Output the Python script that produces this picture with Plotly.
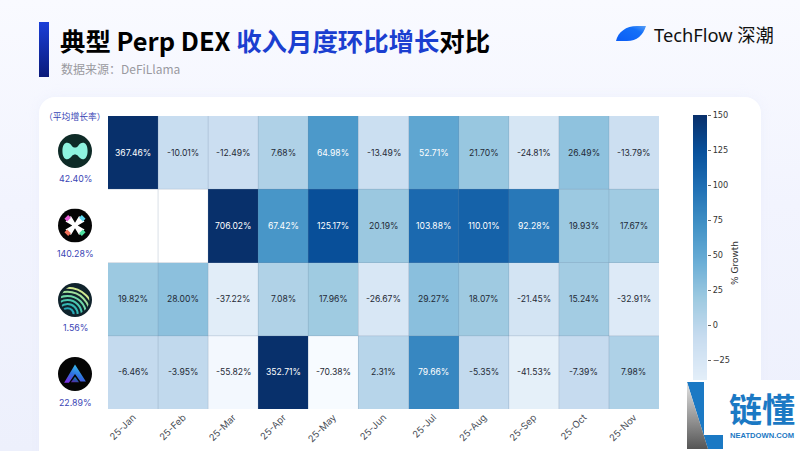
import base64
import plotly.graph_objects as go

W, H = 800, 451

# Monthly revenue growth per protocol, in percent
months = ["25-Jan", "25-Feb", "25-Mar", "25-Apr", "25-May", "25-Jun",
          "25-Jul", "25-Aug", "25-Sep", "25-Oct", "25-Nov"]
row_a = [367.46, -10.01, -12.49, 7.68, 64.98, -13.49, 52.71, 21.70, -24.81, 26.49, -13.79]
row_b = [None, None, 706.02, 67.42, 125.17, 20.19, 103.88, 110.01, 92.28, 19.93, 17.67]
row_c = [19.82, 28.00, -37.22, 7.08, 17.96, -26.67, 29.27, 18.07, -21.45, 15.24, -32.91]
row_d = [-6.46, -3.95, -55.82, 352.71, -70.38, 2.31, 79.66, -5.35, -41.53, -7.39, 7.98]
rows = [row_a, row_b, row_c, row_d]
row_names = ["A", "B", "C", "D"]
average_growth = ["42.40%", "140.28%", "1.56%", "22.89%"]

scale_min, scale_max = -60, 150
scale_ticks = [-50, -25, 0, 25, 50, 75, 100, 125, 150]
blues = ["#f7fbff", "#deebf7", "#c6dbef", "#9ecae1", "#6baed6",
         "#4292c6", "#2171b5", "#08519c", "#08306b"]
colorscale = [[i / (len(blues) - 1), c] for i, c in enumerate(blues)]
WHITE_TEXT_ABOVE = 40


def svg_uri(body, vb_w, vb_h):
    svg = (f'<svg xmlns="http://www.w3.org/2000/svg" width="{vb_w}" height="{vb_h}" '
           f'viewBox="0 0 {vb_w} {vb_h}">{body}</svg>')
    return "data:image/svg+xml;base64," + base64.b64encode(svg.encode()).decode()


def placed(body, x, y, w, h, layer="above", vb=None):
    """Layout image positioned in page pixels, measured from the top-left."""
    vb_w, vb_h = vb or (w, h)
    return dict(source=svg_uri(body, vb_w, vb_h), xref="paper", yref="paper",
                x=x / W, y=1 - y / H, sizex=w / W, sizey=h / H,
                xanchor="left", yanchor="top", sizing="stretch", layer=layer)


def label(text, x, y, size, color, family="Noto Sans CJK SC", xanchor="center", angle=0):
    return dict(text=text, x=x / W, y=1 - y / H, xref="paper", yref="paper",
                xanchor=xanchor, yanchor="middle", showarrow=False, textangle=angle,
                font=dict(size=size, color=color, family=family))


page_bg = """
<defs>
<linearGradient id="p" x1="0" y1="0" x2="0" y2="1">
<stop offset="0" stop-color="#f9faff"/><stop offset="0.45" stop-color="#f2f4fe"/>
<stop offset="1" stop-color="#edf0fc"/></linearGradient>
<linearGradient id="b" x1="0" y1="0" x2="0" y2="1">
<stop offset="0" stop-color="#1b3fd8"/><stop offset="1" stop-color="#0a1a7a"/></linearGradient>
<filter id="s" x="-5%" y="-5%" width="110%" height="110%"><feGaussianBlur stdDeviation="6"/></filter>
</defs>
<rect width="800" height="451" fill="url(#p)"/>
<rect x="39" y="97" width="722" height="380" rx="16" fill="#e6eafa" opacity="0.5" filter="url(#s)"/>
<rect x="39" y="97" width="722" height="380" rx="16" fill="#ffffff"/>
<rect x="39" y="22" width="10" height="55" fill="url(#b)"/>
"""

leaf = """
<defs><linearGradient id="l" x1="0" y1="1" x2="1" y2="0">
<stop offset="0" stop-color="#0a5cf5"/><stop offset="0.7" stop-color="#1470f8"/>
<stop offset="1" stop-color="#5aa0f5"/></linearGradient></defs>
<path d="M0 15 C2 6 10 0 21 0 L30 0 C27 9 21 15 11 15 Z" fill="url(#l)"/>
"""

logo_a = """
<circle cx="50" cy="50" r="50" fill="#0e2b27"/>
<path d="M13 50 C13 22 31 20 41 35 C46 41 54 41 59 35 C69 20 87 22 87 50
C87 78 69 80 59 65 C54 59 46 59 41 65 C31 80 13 78 13 50 Z" fill="#8ef4df"/>
"""

logo_b = """
<circle cx="50" cy="50" r="50" fill="#050505"/>
<path d="M50 42 L38 22 L22 38 L42 50 L22 62 L38 78 L50 58 L62 78 L78 62 L58 50 L78 38 L62 22 Z" fill="#ffffff"/>
<path d="M19 30 L30 19 L38 27 L27 38 Z" fill="#e85fd8"/>
<path d="M81 30 L70 19 L62 27 L73 38 Z" fill="#5fd8f0"/>
<path d="M19 70 L30 81 L38 73 L27 62 Z" fill="#f0705a"/>
<path d="M81 70 L70 81 L62 73 L73 62 Z" fill="#4fe0a0"/>
"""

logo_c = """
<defs><clipPath id="c"><circle cx="50" cy="50" r="42"/></clipPath></defs>
<circle cx="50" cy="50" r="50" fill="#10232c"/>
<g fill="none" stroke-width="6" clip-path="url(#c)">
<circle cx="28" cy="92" r="18" stroke="#28a8b8"/>
<circle cx="28" cy="92" r="30" stroke="#35b8b4"/>
<circle cx="28" cy="92" r="42" stroke="#4cc8b0"/>
<circle cx="28" cy="92" r="54" stroke="#70d8a8"/>
<circle cx="28" cy="92" r="66" stroke="#a0e09c"/>
<circle cx="28" cy="92" r="78" stroke="#d0e890"/>
</g>
"""

logo_d = """
<defs><linearGradient id="t" x1="0.7" y1="0" x2="0.2" y2="1">
<stop offset="0" stop-color="#38c8f0"/><stop offset="0.55" stop-color="#2f6fe0"/>
<stop offset="1" stop-color="#7a2fe0"/></linearGradient></defs>
<circle cx="50" cy="50" r="50" fill="#050505"/>
<path d="M50 22 L82 72 L66 72 L50 50 L32 76 L18 76 Z" fill="url(#t)"/>
<path d="M50 58 L62 74 L38 74 Z" fill="url(#t)" opacity="0.75"/>
"""

mark = """
<defs><linearGradient id="g" x1="0" y1="0" x2="0" y2="1">
<stop offset="0" stop-color="#e4e4e4"/><stop offset="1" stop-color="#555555"/></linearGradient></defs>
<rect width="113" height="71" fill="#ffffff"/>
<path d="M0 2 L17 2 L17 55 L36 55 L36 69 L21 69 Z" fill="#1b79c4"/>
<path d="M0 2 L21 69 L0 69 Z" fill="url(#g)"/>
"""

logo_rows = [(logo_a, 151), (logo_b, 225.5), (logo_c, 300), (logo_d, 374)]
images = [placed(page_bg, 0, 0, W, H, layer="below"),
          placed(leaf, 616, 26, 30, 15),
          placed(mark, 687, 380, 113, 71)]
images += [placed(svg, 58, cy - 17, 34, 34, vb=(100, 100)) for svg, cy in logo_rows]

fig = go.Figure()

# Main grid of monthly growth values
fig.add_trace(go.Heatmap(
    z=rows, x=months, y=row_names, xaxis="x", yaxis="y",
    zmin=scale_min, zmax=scale_max, colorscale=colorscale,
    showscale=False, hoverongaps=False,
))

# Vertical colour key, kept on its own axes so the page mark can sit over it
fig.add_trace(go.Heatmap(
    z=[[scale_min, scale_min], [scale_max, scale_max]],
    x=[0, 1], y=[scale_min, scale_max], xaxis="x2", yaxis="y2",
    zmin=scale_min, zmax=scale_max, colorscale=colorscale,
    zsmooth="best", showscale=False, hoverinfo="skip",
))

annotations = []
for i, row in enumerate(rows):
    for j, value in enumerate(row):
        if value is None:
            continue
        annotations.append(dict(
            text=f"{value:.2f}%", x=months[j], y=row_names[i], xref="x", yref="y",
            showarrow=False,
            font=dict(size=8.6, family="Inter",
                      color="#ffffff" if value > WHITE_TEXT_ABOVE else "#1f2a36"),
        ))

annotations += [
    label('<b>典型 Perp DEX <span style="color:#1b3fd0">收入月度环比增长</span>对比</b>',
          58, 39.5, 25.4, "#000000", xanchor="left"),
    label("数据来源：DeFiLlama", 59, 69, 12, "#9a9a9f", xanchor="left"),
    label("TechFlow 深潮", 652, 34, 18.3, "#111111", family="Noto Sans, Noto Sans CJK SC", xanchor="left"),
    label("（平均增长率）", 75, 116, 8.8, "#3a45b5"),
    label("% Growth", 735, 263, 9, "#333333", family="DejaVu Sans", angle=-90),
    label("<b>链懂</b>", 762, 408, 33, "#1b79c4"),
    label("<b>NEATDOWN.COM</b>", 762, 435, 7.6, "#1b79c4", family="Liberation Sans"),
]
for text, cy in zip(average_growth, [178, 253, 327, 402]):
    annotations.append(label(text, 75, cy, 8.8, "#3a45b5", family="Inter"))

# Thin separators between the cells
separator = dict(color="rgba(110,135,165,0.25)", width=1)
shapes = []
for k in range(1, len(months)):
    shapes.append(dict(type="line", xref="x", yref="y domain", x0=k - 0.5, x1=k - 0.5,
                       y0=0, y1=1, line=separator, layer="above"))
for k in range(1, len(row_names)):
    shapes.append(dict(type="line", xref="x domain", yref="y", x0=0, x1=1,
                       y0=k - 0.5, y1=k - 0.5, line=separator, layer="above"))

fig.update_layout(
    width=W, height=H, autosize=False,
    margin=dict(l=0, r=0, t=0, b=0, autoexpand=False),
    paper_bgcolor="#f3f5fe", plot_bgcolor="#ffffff",
    showlegend=False, images=images, annotations=annotations, shapes=shapes,
    xaxis=dict(domain=[108 / W, 659 / W], anchor="y", tickangle=-45, ticks="",
               showline=False, showgrid=False, zeroline=False,
               tickfont=dict(size=9.5, family="Inter", color="#4a4f58")),
    yaxis=dict(domain=[1 - 409 / H, 1 - 116 / H], anchor="x", autorange="reversed",
               showticklabels=False, ticks="", showline=False, showgrid=False, zeroline=False),
    xaxis2=dict(domain=[693 / W, 707 / W], anchor="y2", showticklabels=False, ticks="",
                showline=False, showgrid=False, zeroline=False, range=[0, 1]),
    yaxis2=dict(domain=[1 - 409 / H, 1 - 115 / H], anchor="x2", side="right",
                range=[scale_min, scale_max], tickvals=scale_ticks,
                ticks="outside", ticklen=3, tickcolor="#666666", tickwidth=1,
                showline=False, showgrid=False, zeroline=False,
                tickfont=dict(size=8.2, family="DejaVu Sans", color="#333333")),
)

fig.write_html("out.html")
